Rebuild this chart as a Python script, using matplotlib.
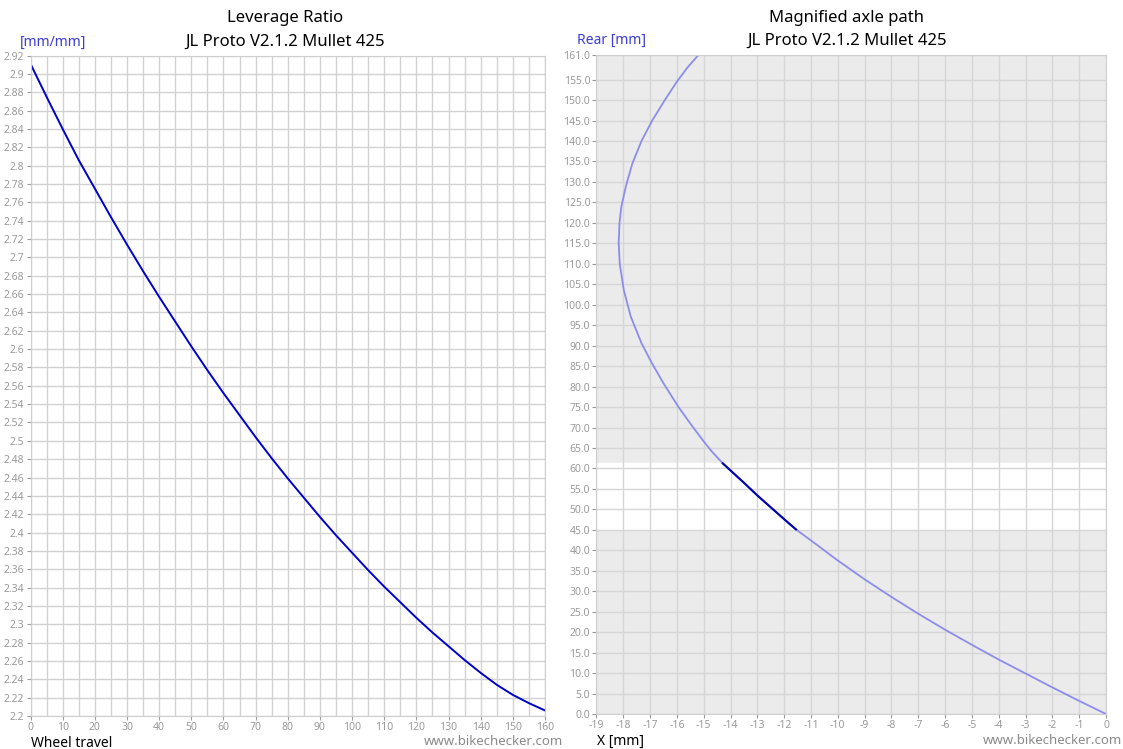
import matplotlib
matplotlib.use('Agg')
import matplotlib.pyplot as plt
import numpy as np

plt.rcParams['font.family'] = ['Noto Sans', 'DejaVu Sans']

# Leverage ratio vs wheel travel
travel = [0, 5, 10, 15, 20, 25, 30, 35, 40, 45, 50, 55, 60, 65, 70, 75, 80,
          85, 90, 95, 100, 105, 110, 115, 120, 125, 130, 135, 140, 145, 150, 155, 160]
leverage = [2.911, 2.875, 2.840, 2.806, 2.775, 2.744, 2.714, 2.685, 2.657, 2.630, 2.603,
            2.577, 2.552, 2.528, 2.504, 2.481, 2.459, 2.438, 2.417, 2.397, 2.378, 2.359,
            2.341, 2.324, 2.307, 2.291, 2.276, 2.261, 2.247, 2.234, 2.223, 2.214, 2.206]

# Magnified axle path: rear travel (y) vs horizontal displacement (x)
rear = [0, 1.6, 3.2, 6.5, 9.9, 13.3, 16.9, 20.6, 24.5, 28.6, 32.9, 37.5, 42.4, 45.1, 47.6,
        53.4, 56.5, 59.5, 61.25, 64.0, 66.6, 70.8, 75.1, 80.8, 85.7, 90.6, 97.1, 103.6,
        110.0, 115.0, 120.0, 124.0, 129.0, 134.5, 140.0, 145.0, 150.0, 154.5, 158.0, 161.0]
axle_x = [0, -0.5, -1, -2, -3, -4, -5, -6, -7, -8, -9, -10, -11, -11.56, -12,
          -13, -13.5, -14, -14.29, -14.68, -15.0, -15.48, -15.95, -16.5, -16.93, -17.32, -17.72, -17.98,
          -18.13, -18.17, -18.14, -18.07, -17.9, -17.66, -17.32, -16.92, -16.45, -16.0, -15.6, -15.2]
sag_lo, sag_hi = 45.1, 61.25

lev_yticks = np.round(np.arange(2.2, 2.921, 0.02), 2)
lev_xticks = list(range(0, 161, 10))
path_xticks = list(range(-19, 1))
path_yticks = list(range(0, 156, 5)) + [161]

tick_col = '#9a9a9a'
grid_col = '#d2d2d2'

fig = plt.figure(figsize=(11.23, 7.49), dpi=100)

# ---- left chart
ax1 = fig.add_axes([0.0272, 0.0441, 0.4581, 0.8816])
ax1.plot(travel, leverage, color='#0000cc', lw=1.4)
ax1.set_xlim(0, 160)
ax1.set_ylim(2.2, 2.92)
ax1.set_yticks(lev_yticks)
ax1.set_yticklabels(['%g' % v for v in lev_yticks])
ax1.set_xticks(lev_xticks)
ax1.set_xticks(range(5, 160, 10), minor=True)
ax1.grid(True, which='both', color=grid_col, lw=1)
ax1.tick_params(which='minor', length=0)

# ---- right chart
ax2 = fig.add_axes([0.5311, 0.0467, 0.4538, 0.8798])
ax2.set_facecolor('#ebebeb')
ax2.axhspan(sag_lo, sag_hi, color='white', zorder=0.5)
ax2.plot(axle_x, rear, color='#8c8cec', lw=1.3)
seg = [(x, y) for x, y in zip(axle_x, rear) if sag_lo <= y <= sag_hi]
ax2.plot([p[0] for p in seg], [p[1] for p in seg], color='#0000b0', lw=1.5)
ax2.set_xlim(-19, 0)
ax2.set_ylim(0, 161)
ax2.set_xticks(path_xticks)
ax2.set_xticklabels(['%d' % v for v in path_xticks])
ax2.set_yticks(path_yticks)
ax2.set_yticklabels(['%.1f' % v for v in path_yticks])
ax2.grid(True, color='#d6d6d6', lw=1)

for ax in (ax1, ax2):
    ax.set_axisbelow(True)
    for s in ax.spines.values():
        s.set_color('#cfcfcf')
    ax.tick_params(labelsize=7.5, colors=tick_col, length=3, width=0.8, pad=1.5)

# ---- texts
fig.text(0.254, 0.976, 'Leverage Ratio', ha='center', va='center', fontsize=12)
fig.text(0.254, 0.944, 'JL Proto V2.1.2 Mullet 425', ha='center', va='center', fontsize=12)
fig.text(0.018, 0.944, '[mm/mm]', ha='left', va='center', fontsize=10, color='#3b3bd6')
fig.text(0.028, 0.008, 'Wheel travel', ha='left', va='center', fontsize=10)
fig.text(0.501, 0.010, 'www.bikechecker.com', ha='right', va='center', fontsize=9.5, color='#8a8a8a')

fig.text(0.754, 0.976, 'Magnified axle path', ha='center', va='center', fontsize=12)
fig.text(0.754, 0.946, 'JL Proto V2.1.2 Mullet 425', ha='center', va='center', fontsize=12)
fig.text(0.514, 0.946, 'Rear [mm]', ha='left', va='center', fontsize=10, color='#3b3bd6')
fig.text(0.532, 0.010, 'X [mm]', ha='left', va='center', fontsize=10)
fig.text(0.999, 0.012, 'www.bikechecker.com', ha='right', va='center', fontsize=9.5, color='#8a8a8a')

fig.savefig('out.png', dpi=100)
